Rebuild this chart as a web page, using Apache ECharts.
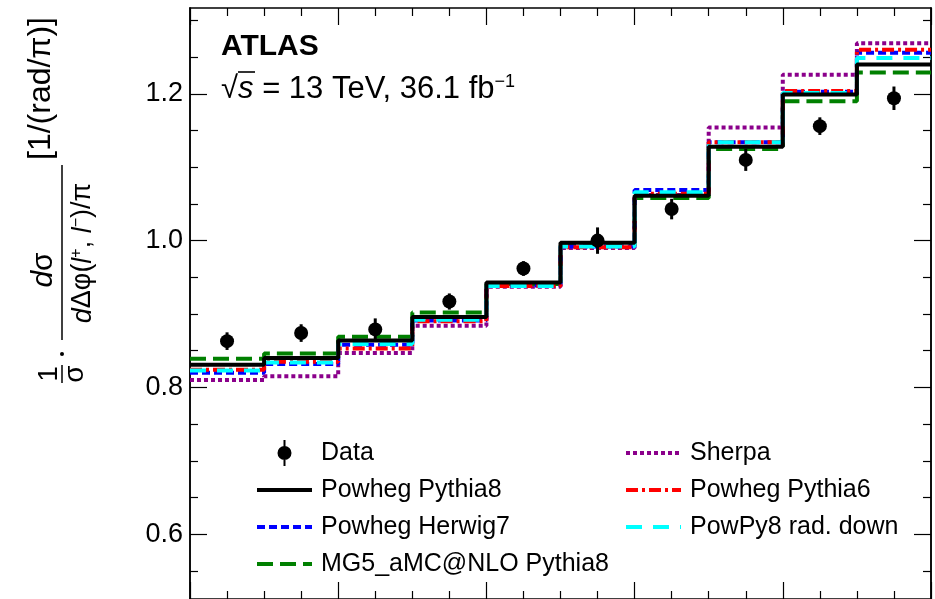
<!DOCTYPE html>
<html><head><meta charset="utf-8">
<script src="https://cdn.jsdelivr.net/npm/echarts@6/dist/echarts.min.js"></script>
<style>html,body{margin:0;padding:0;background:#fff}#c{width:935px;height:599px}</style>
</head><body><div id="c"></div>
<script>
// bin edges of Δφ(l+,l−)/π
const edges = [0, 0.1, 0.2, 0.3, 0.4, 0.5, 0.6, 0.7, 0.8, 0.9, 1.0];
// measured data and uncertainties
const dataVals = [0.863, 0.874, 0.879, 0.917, 0.962, 1.000, 1.043, 1.110, 1.156, 1.194];
const dataErr  = [0.012, 0.012, 0.015, 0.011, 0.010, 0.018, 0.014, 0.015, 0.012, 0.016];
// predictions
const powhegPythia8 = [0.831, 0.840, 0.864, 0.896, 0.943, 0.997, 1.061, 1.128, 1.199, 1.240];
const powhegHerwig7 = [0.820, 0.832, 0.858, 0.891, 0.939, 0.992, 1.069, 1.134, 1.203, 1.256];
const mg5Pythia8    = [0.839, 0.846, 0.869, 0.902, 0.941, 0.993, 1.058, 1.125, 1.190, 1.229];
const sherpa        = [0.810, 0.815, 0.847, 0.884, 0.937, 0.990, 1.062, 1.154, 1.226, 1.269];
const powhegPythia6 = [0.824, 0.835, 0.853, 0.890, 0.938, 0.991, 1.064, 1.134, 1.204, 1.260];
const powPy8RadDown = [0.823, 0.834, 0.859, 0.892, 0.938, 0.992, 1.066, 1.134, 1.201, 1.249];
// y tick values
const yMajorTicks = [0.6, 0.8, 1.0, 1.2];
const yMinorTicks = [0.55, 0.65, 0.7, 0.75, 0.85, 0.9, 0.95, 1.05, 1.1, 1.15, 1.25, 1.3];
const yRange = [0.5116, 1.317];

const FONT = 'Liberation Sans, Arial, Helvetica, sans-serif';

function stepData(vals) {
  const pts = vals.map((v, i) => [edges[i], v]);
  pts.push([edges[edges.length - 1], vals[vals.length - 1]]);
  return pts;
}
const centers = dataVals.map((v, i) => (edges[i] + edges[i + 1]) / 2);

function lineSeries(name, vals, color, type, z) {
  return {
    name, type: 'line', step: 'end', data: stepData(vals), showSymbol: false, symbol: 'none',
    lineStyle: { color, width: 4, type }, itemStyle: { color }, z, animation: false
  };
}

const chart = echarts.init(document.getElementById('c'), null, { renderer: 'canvas' });

const baseY = (pos, ticks, len, showLabel) => ({
  type: 'value', position: pos, min: yRange[0], max: yRange[1],
  axisLine: { show: true, lineStyle: { color: '#000', width: 1.5 } },
  axisTick: { show: true, inside: true, length: len, customValues: ticks, lineStyle: { color: '#000', width: 1.2 } },
  axisLabel: showLabel ? {
    show: true, customValues: yMajorTicks, formatter: v => v.toFixed(1),
    fontSize: 27, color: '#000', fontFamily: FONT, margin: 7
  } : { show: false },
  splitLine: { show: false }
});
const baseX = (pos) => ({
  type: 'value', position: pos, min: 0, max: 1, interval: 0.2,
  axisLine: { show: true, onZero: false, lineStyle: { color: '#000', width: 1.5 } },
  axisTick: { show: true, inside: true, length: 17, lineStyle: { color: '#000', width: 1.2 } },
  minorTick: { show: true, splitNumber: 4, length: 8, lineStyle: { color: '#000', width: 1.2 } },
  axisLabel: { show: false }, splitLine: { show: false }, minorSplitLine: { show: false }
});

const dataIcon = 'path://M6,0 L8,0 L8,6.2 L6,6.2 Z M6,19.8 L8,19.8 L8,26 L6,26 Z M7,6 A7,7 0 1 1 7,20 A7,7 0 1 1 7,6 Z';

const legendCommon = {
  orient: 'vertical', itemWidth: 55, itemHeight: 26, itemGap: 11, padding: 0,
  textStyle: { fontSize: 25, fontFamily: FONT, color: '#000', lineHeight: 26, padding: [0, 0, 0, 4] },
  itemStyle: { opacity: 0, borderWidth: 0 },
  lineStyle: { width: 4 },
  selectedMode: false, inactiveColor: '#000'
};

const supStyle = { fontSize: 18, verticalAlign: 'top', fontFamily: FONT, lineHeight: 32 };
const supStyleY = { fontSize: 16, verticalAlign: 'top', fontFamily: FONT, lineHeight: 28 };

const option = {
  animation: false,
  backgroundColor: '#fff',
  grid: { left: 190, top: 8, width: 741, height: 592, containLabel: false },
  xAxis: [baseX('bottom'), baseX('top')],
  yAxis: [
    baseY('left', yMajorTicks, 17, true),
    baseY('left', yMinorTicks, 8, false),
    baseY('right', yMajorTicks, 17, false),
    baseY('right', yMinorTicks, 8, false)
  ],
  legend: [
    Object.assign({}, legendCommon, {
      left: 255, top: 440,
      data: [{ name: 'Data', icon: dataIcon, itemStyle: { opacity: 1, color: '#000' } },
             'Powheg Pythia8', 'Powheg Herwig7', 'MG5_aMC@NLO Pythia8']
    }),
    Object.assign({}, legendCommon, {
      left: 624, top: 440,
      data: ['Sherpa', 'Powheg Pythia6', 'PowPy8 rad. down']
    })
  ],
  series: [
    lineSeries('Sherpa', sherpa, '#8b008b', [4, 3], 2),
    lineSeries('MG5_aMC@NLO Pythia8', mg5Pythia8, '#008000', [16, 7], 3),
    lineSeries('Powheg Herwig7', powhegHerwig7, '#0000ff', [8, 4], 4),
    lineSeries('Powheg Pythia6', powhegPythia6, '#ff0000', [12, 4, 3, 4], 5),
    lineSeries('PowPy8 rad. down', powPy8RadDown, '#00ffff', [16, 11], 6),
    lineSeries('Powheg Pythia8', powhegPythia8, '#000000', 'solid', 7),
    {
      name: 'Data', type: 'custom', z: 9,
      data: dataVals.map((v, i) => [centers[i], v - dataErr[i], v + dataErr[i]]),
      renderItem: (params, api) => {
        const p1 = api.coord([api.value(0), api.value(1)]);
        const p2 = api.coord([api.value(0), api.value(2)]);
        return { type: 'line', shape: { x1: p1[0], y1: p1[1], x2: p2[0], y2: p2[1] },
                 style: { stroke: '#000', lineWidth: 3 } };
      },
      itemStyle: { color: '#000', opacity: 1 }
    },
    {
      name: 'Data', type: 'scatter', z: 10, symbol: 'circle', symbolSize: 14,
      data: dataVals.map((v, i) => [centers[i], v]), itemStyle: { color: '#000', opacity: 1 }
    }
  ],
  graphic: [
    { type: 'text', left: 221, top: 32, z: 20,
      style: { text: 'ATLAS', font: 'bold 30px ' + FONT, fill: '#000' } },
    { type: 'text', x: 221, y: 89, z: 20,
      style: {
        text: '√{i|s} = 13 TeV, 36.1 fb{sup|−1}', fontSize: 31, fontFamily: FONT, fill: '#000',
        verticalAlign: 'middle',
        rich: { i: { fontStyle: 'italic', fontSize: 31, fontFamily: FONT }, sup: supStyle }
      } },
    { type: 'line', z: 20, shape: { x1: 238, y1: 72, x2: 255, y2: 72 }, style: { stroke: '#000', lineWidth: 1.6 } },
    {
      type: 'group', x: 62, y: 374, rotation: Math.PI / 2, z: 20,
      children: [
        { type: 'text', x: 0, y: -13, style: { text: '1', fontSize: 28, fontFamily: FONT, fill: '#000', align: 'center', verticalAlign: 'middle' } },
        { type: 'line', shape: { x1: -9, y1: 0, x2: 9, y2: 0 }, style: { stroke: '#000', lineWidth: 1.5 } },
        { type: 'text', x: 0, y: 13, style: { text: 'σ', fontSize: 28, fontFamily: FONT, fill: '#000', align: 'center', verticalAlign: 'middle' } },
        { type: 'circle', shape: { cx: 20, cy: 0, r: 2 }, style: { fill: '#000' } },
        { type: 'line', shape: { x1: 34, y1: 0, x2: 209, y2: 0 }, style: { stroke: '#000', lineWidth: 1.5 } },
        { type: 'text', x: 104, y: -18, style: { text: '{i|d}σ', fontSize: 30, fontFamily: FONT, fill: '#000', align: 'center', verticalAlign: 'middle',
            rich: { i: { fontStyle: 'italic', fontSize: 30, fontFamily: FONT } } } },
        { type: 'text', x: 121, y: 21, style: { text: '{i|d}Δφ({i|l}{sup|+}, {i|l}{sup|−})/π', fontSize: 27, fontFamily: FONT, fill: '#000', align: 'center', verticalAlign: 'middle',
            rich: { i: { fontStyle: 'italic', fontSize: 27, fontFamily: FONT }, sup: supStyleY } } },
        { type: 'text', x: 214, y: -21, style: { text: '[1/(rad/π)]', fontSize: 32, fontFamily: FONT, fill: '#000', align: 'left', verticalAlign: 'middle' } }
      ]
    }
  ]
};
chart.setOption(option);
</script></body></html>
